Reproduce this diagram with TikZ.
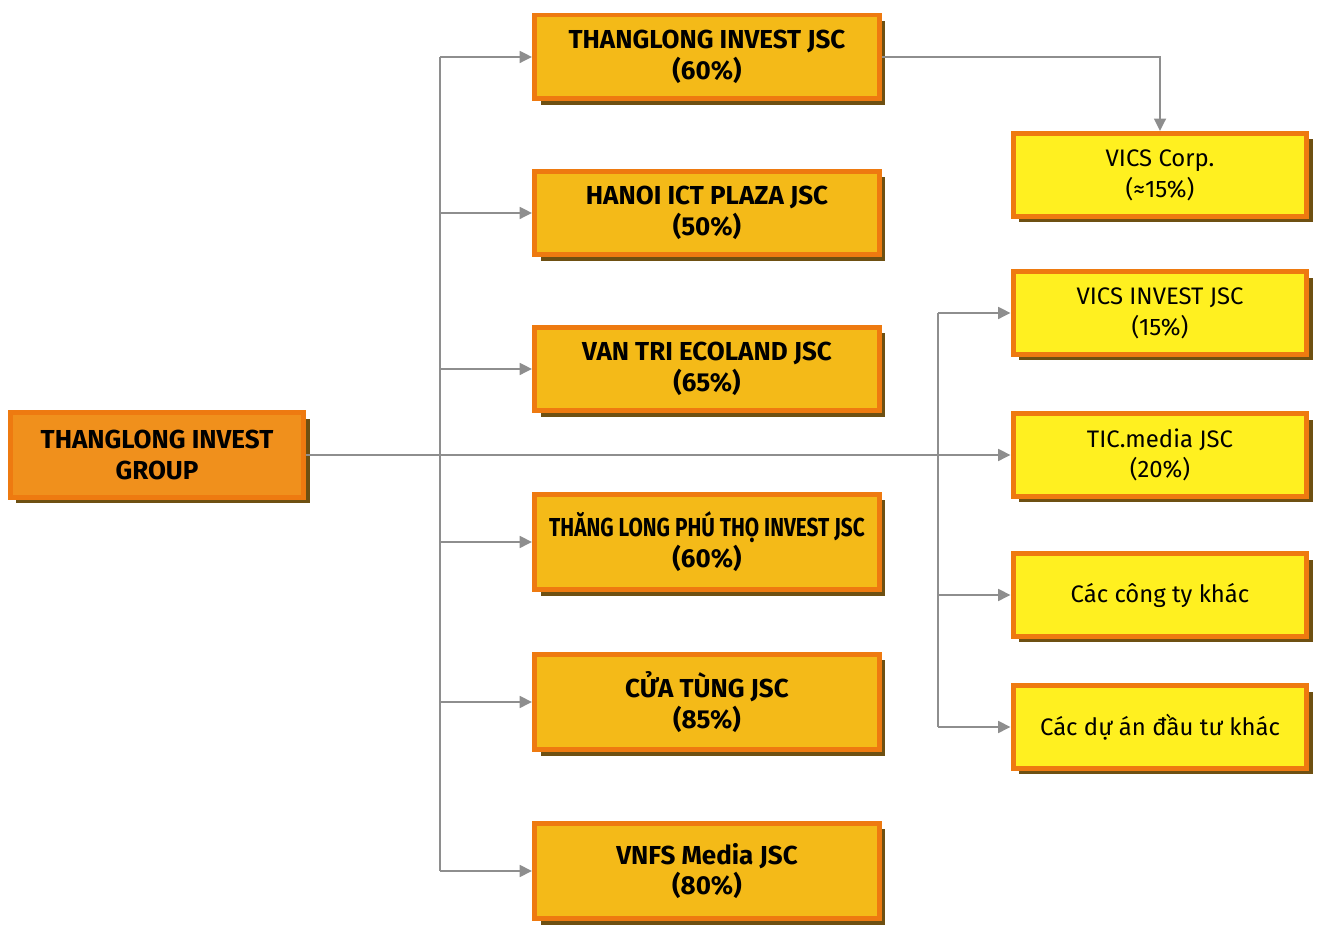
\documentclass[tikz,border=0pt]{standalone}
\usepackage{fontspec}
\setmainfont{Fira Sans}
\usetikzlibrary{arrows.meta,positioning,calc,shadows}
\definecolor{boxorange}{RGB}{238,122,16}
\definecolor{rootfill}{RGB}{240,144,28}
\definecolor{goldfill}{RGB}{244,186,24}
\definecolor{lemonfill}{RGB}{255,240,32}
\definecolor{shadowbrown}{RGB}{110,80,18}
\definecolor{linkgray}{RGB}{142,142,142}

\begin{document}
\begin{tikzpicture}[
    x=0.02cm, y=-0.02cm,
    company/.style={draw=boxorange, line width=0.1cm, align=center, inner sep=2pt,
        drop shadow={shadow xshift=0.12cm, shadow yshift=-0.12cm, fill=shadowbrown, opacity=1}},
    rootbox/.style={company, fill=rootfill, minimum width=5.88cm, minimum height=1.7cm,
        font=\bfseries\fontsize{14.8}{17.5}\selectfont},
    midbox/.style={company, fill=goldfill, minimum width=6.9cm, minimum height=1.68cm,
        font=\bfseries\fontsize{14.8}{17.5}\selectfont},
    tallbox/.style={midbox, minimum height=1.92cm},
    sidebox/.style={company, fill=lemonfill, minimum width=5.88cm, minimum height=1.66cm,
        font=\fontsize{13.6}{17.5}\selectfont},
    link/.style={draw=linkgray, line width=1pt},
    linkarrow/.style={link, -{Triangle[length=0.25cm,width=0.24cm]}},
]
    \useasboundingbox[fill=white] (0,0) rectangle (1319,928);
    % Group
    \node[rootbox] (root) at (157,455) {THANGLONG INVEST\\GROUP};
    % Subsidiaries
    \node[midbox] (tlinv) at (707,57) {THANGLONG INVEST JSC\\(60\%)};
    \node[midbox] (ictplaza) at (707,213) {HANOI ICT PLAZA JSC\\(50\%)};
    \node[midbox] (vantri) at (707,369) {VAN TRI ECOLAND JSC\\(65\%)};
    \node[tallbox] (phutho) at (707,542) {\scalebox{0.8}[1]{THĂNG LONG PHÚ THỌ INVEST JSC}\\(60\%)};
    \node[tallbox] (cuatung) at (707,702) {CỬA TÙNG JSC\\(85\%)};
    \node[tallbox] (vnfs) at (707,871) {VNFS Media JSC\\(80\%)};
    % Affiliates
    \node[sidebox] (vicscorp) at (1160,175) {VICS Corp.\\(≈15\%)};
    \node[sidebox] (vicsinv) at (1160,313) {VICS INVEST JSC\\(15\%)};
    \node[sidebox] (ticmedia) at (1160,455) {TIC.media JSC\\(20\%)};
    \node[sidebox] (others) at (1160,595) {Các công ty khác};
    \node[sidebox] (projects) at (1160,727) {Các dự án đầu tư khác};
    % Trunks
    \coordinate (trunkA) at (440,0);
    \coordinate (trunkB) at (938,0);
    \draw[linkarrow] (root.east) -- (ticmedia.west);
    \draw[link] (tlinv.west -| trunkA) -- (vnfs.west -| trunkA);
    \foreach \n in {tlinv,ictplaza,vantri,phutho,cuatung,vnfs}
        \draw[linkarrow] (\n.west -| trunkA) -- (\n.west);
    \draw[link] (vicsinv.west -| trunkB) -- (projects.west -| trunkB);
    \foreach \n in {vicsinv,others,projects}
        \draw[linkarrow] (\n.west -| trunkB) -- (\n.west);
    \draw[linkarrow] (tlinv.east) -| (vicscorp.north);
\end{tikzpicture}
\end{document}
